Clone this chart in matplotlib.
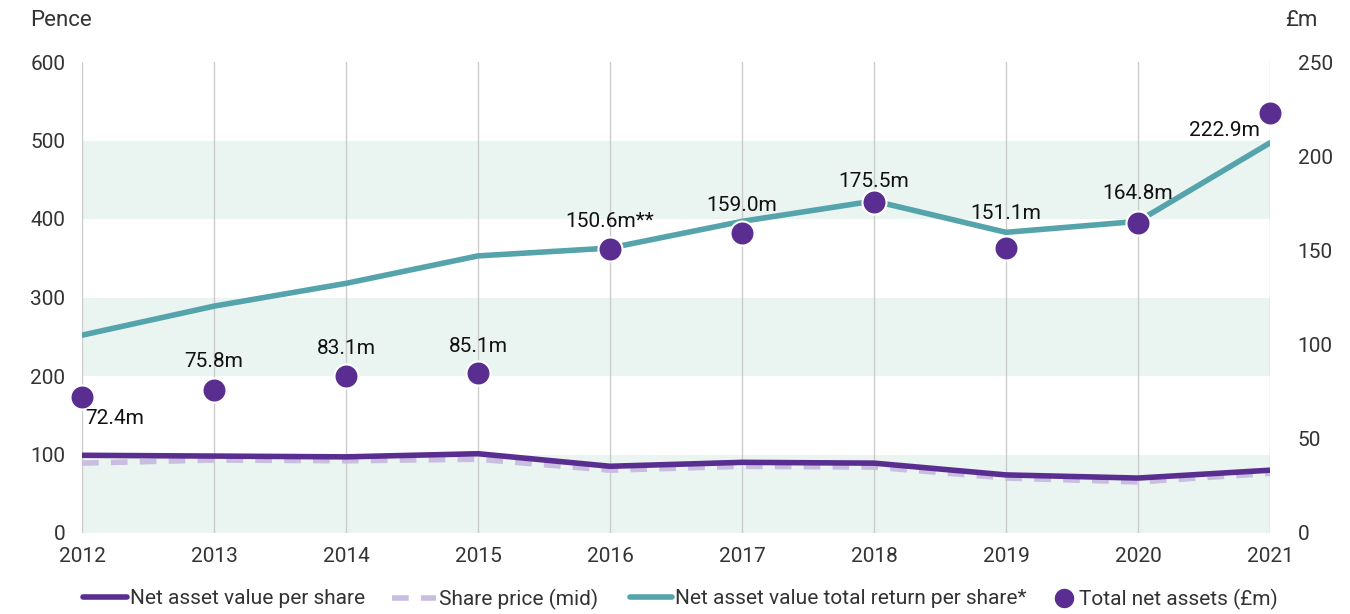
import matplotlib
matplotlib.use("Agg")
import matplotlib.pyplot as plt
from matplotlib.lines import Line2D

plt.rcParams['font.family'] = ['Roboto', 'DejaVu Sans']

years = [2012, 2013, 2014, 2015, 2016, 2017, 2018, 2019, 2020, 2021]
nav_per_share = [99, 98, 97, 101, 85, 90, 89, 74, 70, 80]
share_price = [89, 93, 92, 94, 80, 85, 84, 70, 65, 76]
nav_total_return = [252, 289, 318, 353, 363, 397, 423, 383, 397, 497]
total_net_assets = [72.4, 75.8, 83.1, 85.1, 150.6, 159.0, 175.5, 151.1, 164.8, 222.9]
asset_labels = ["72.4m", "75.8m", "83.1m", "85.1m", "150.6m**", "159.0m",
                "175.5m", "151.1m", "164.8m", "222.9m"]
left_ticks = [0, 100, 200, 300, 400, 500, 600]
right_ticks = [0, 50, 100, 150, 200, 250]

PURPLE = "#5a2d91"
LILAC = "#c9bde0"
TEAL = "#55a3ab"
BAND = "#eaf4f0"
GRID = "#cccccc"
TXT = "#333333"

fig = plt.figure(figsize=(13.5, 6.14), dpi=100)
ax = fig.add_axes([82/1350, 1-533/614, (1270-82)/1350, (533-62)/614])
ax2 = ax.twinx()

for lo in (0, 200, 400):
    ax.axhspan(lo, lo + 100, color=BAND, zorder=0, lw=0)
for y in years:
    ax.axvline(y, color=GRID, lw=1, zorder=0.5)

ax.plot(years, share_price, color=LILAC, lw=4, dashes=(3, 2.2), zorder=2, solid_capstyle='butt')
ax.plot(years, nav_per_share, color=PURPLE, lw=4, zorder=3, solid_capstyle='round')
ax.plot(years, nav_total_return, color=TEAL, lw=4, zorder=3, solid_capstyle='round')

ax.set_xlim(2012, 2021)
ax.set_ylim(0, 600)
ax2.set_ylim(0, 250)
ax.set_yticks(left_ticks)
ax2.set_yticks(right_ticks)
ax.set_xticks(years)
ax.set_xticklabels([str(y) for y in years])

for a in (ax, ax2):
    for s in a.spines.values():
        s.set_visible(False)
    a.tick_params(length=0, labelsize=15, colors=TXT)
ax.tick_params(axis='y', pad=12)
ax.tick_params(axis='x', pad=10)
ax2.tick_params(axis='y', pad=20)

ax2.scatter(years, total_net_assets, s=300, color=PURPLE, edgecolors='white',
            linewidths=1.5, zorder=5, clip_on=False)

offsets = [(33, -22), (0, 29), (0, 28), (0, 26), (0, 28), (0, 28), (0, 21), (0, 35), (0, 29), (-46, -17)]
for x, v, lab, off in zip(years, total_net_assets, asset_labels, offsets):
    ax2.annotate(lab, (x, v), xytext=off, textcoords='offset pixels',
                 ha='center', va='center', fontsize=15, color='#111111', zorder=6)

fig.text(30/1350, 1-20/614, "Pence", fontsize=16, color=TXT, va='center', ha='left')
fig.text(1285/1350, 1-20/614, "£m", fontsize=16, color=TXT, va='center', ha='left')

handles = [
    Line2D([], [], color=PURPLE, lw=4, solid_capstyle='round'),
    Line2D([], [], color=LILAC, lw=4, dashes=(3, 2.2)),
    Line2D([], [], color=TEAL, lw=4, solid_capstyle='round'),
    Line2D([], [], color=PURPLE, lw=0, marker='o', markersize=15, markeredgecolor='white'),
]
labels = ["Net asset value per share", "Share price (mid)",
          "Net asset value total return per share*", "Total net assets (£m)"]
starts = [83, 392, 630, 1053]
hlens = [2.1, 2.1, 2.0, 1.1]
for h, lab, x0, hl in zip(handles, labels, starts, hlens):
    fig.legend([h], [lab], loc='center left', bbox_to_anchor=(x0/1350, 1-599/614),
               frameon=False, fontsize=15, handlelength=hl, handletextpad=0.15,
               borderpad=0, borderaxespad=0, labelcolor=TXT)

fig.savefig("out.png", dpi=100)
